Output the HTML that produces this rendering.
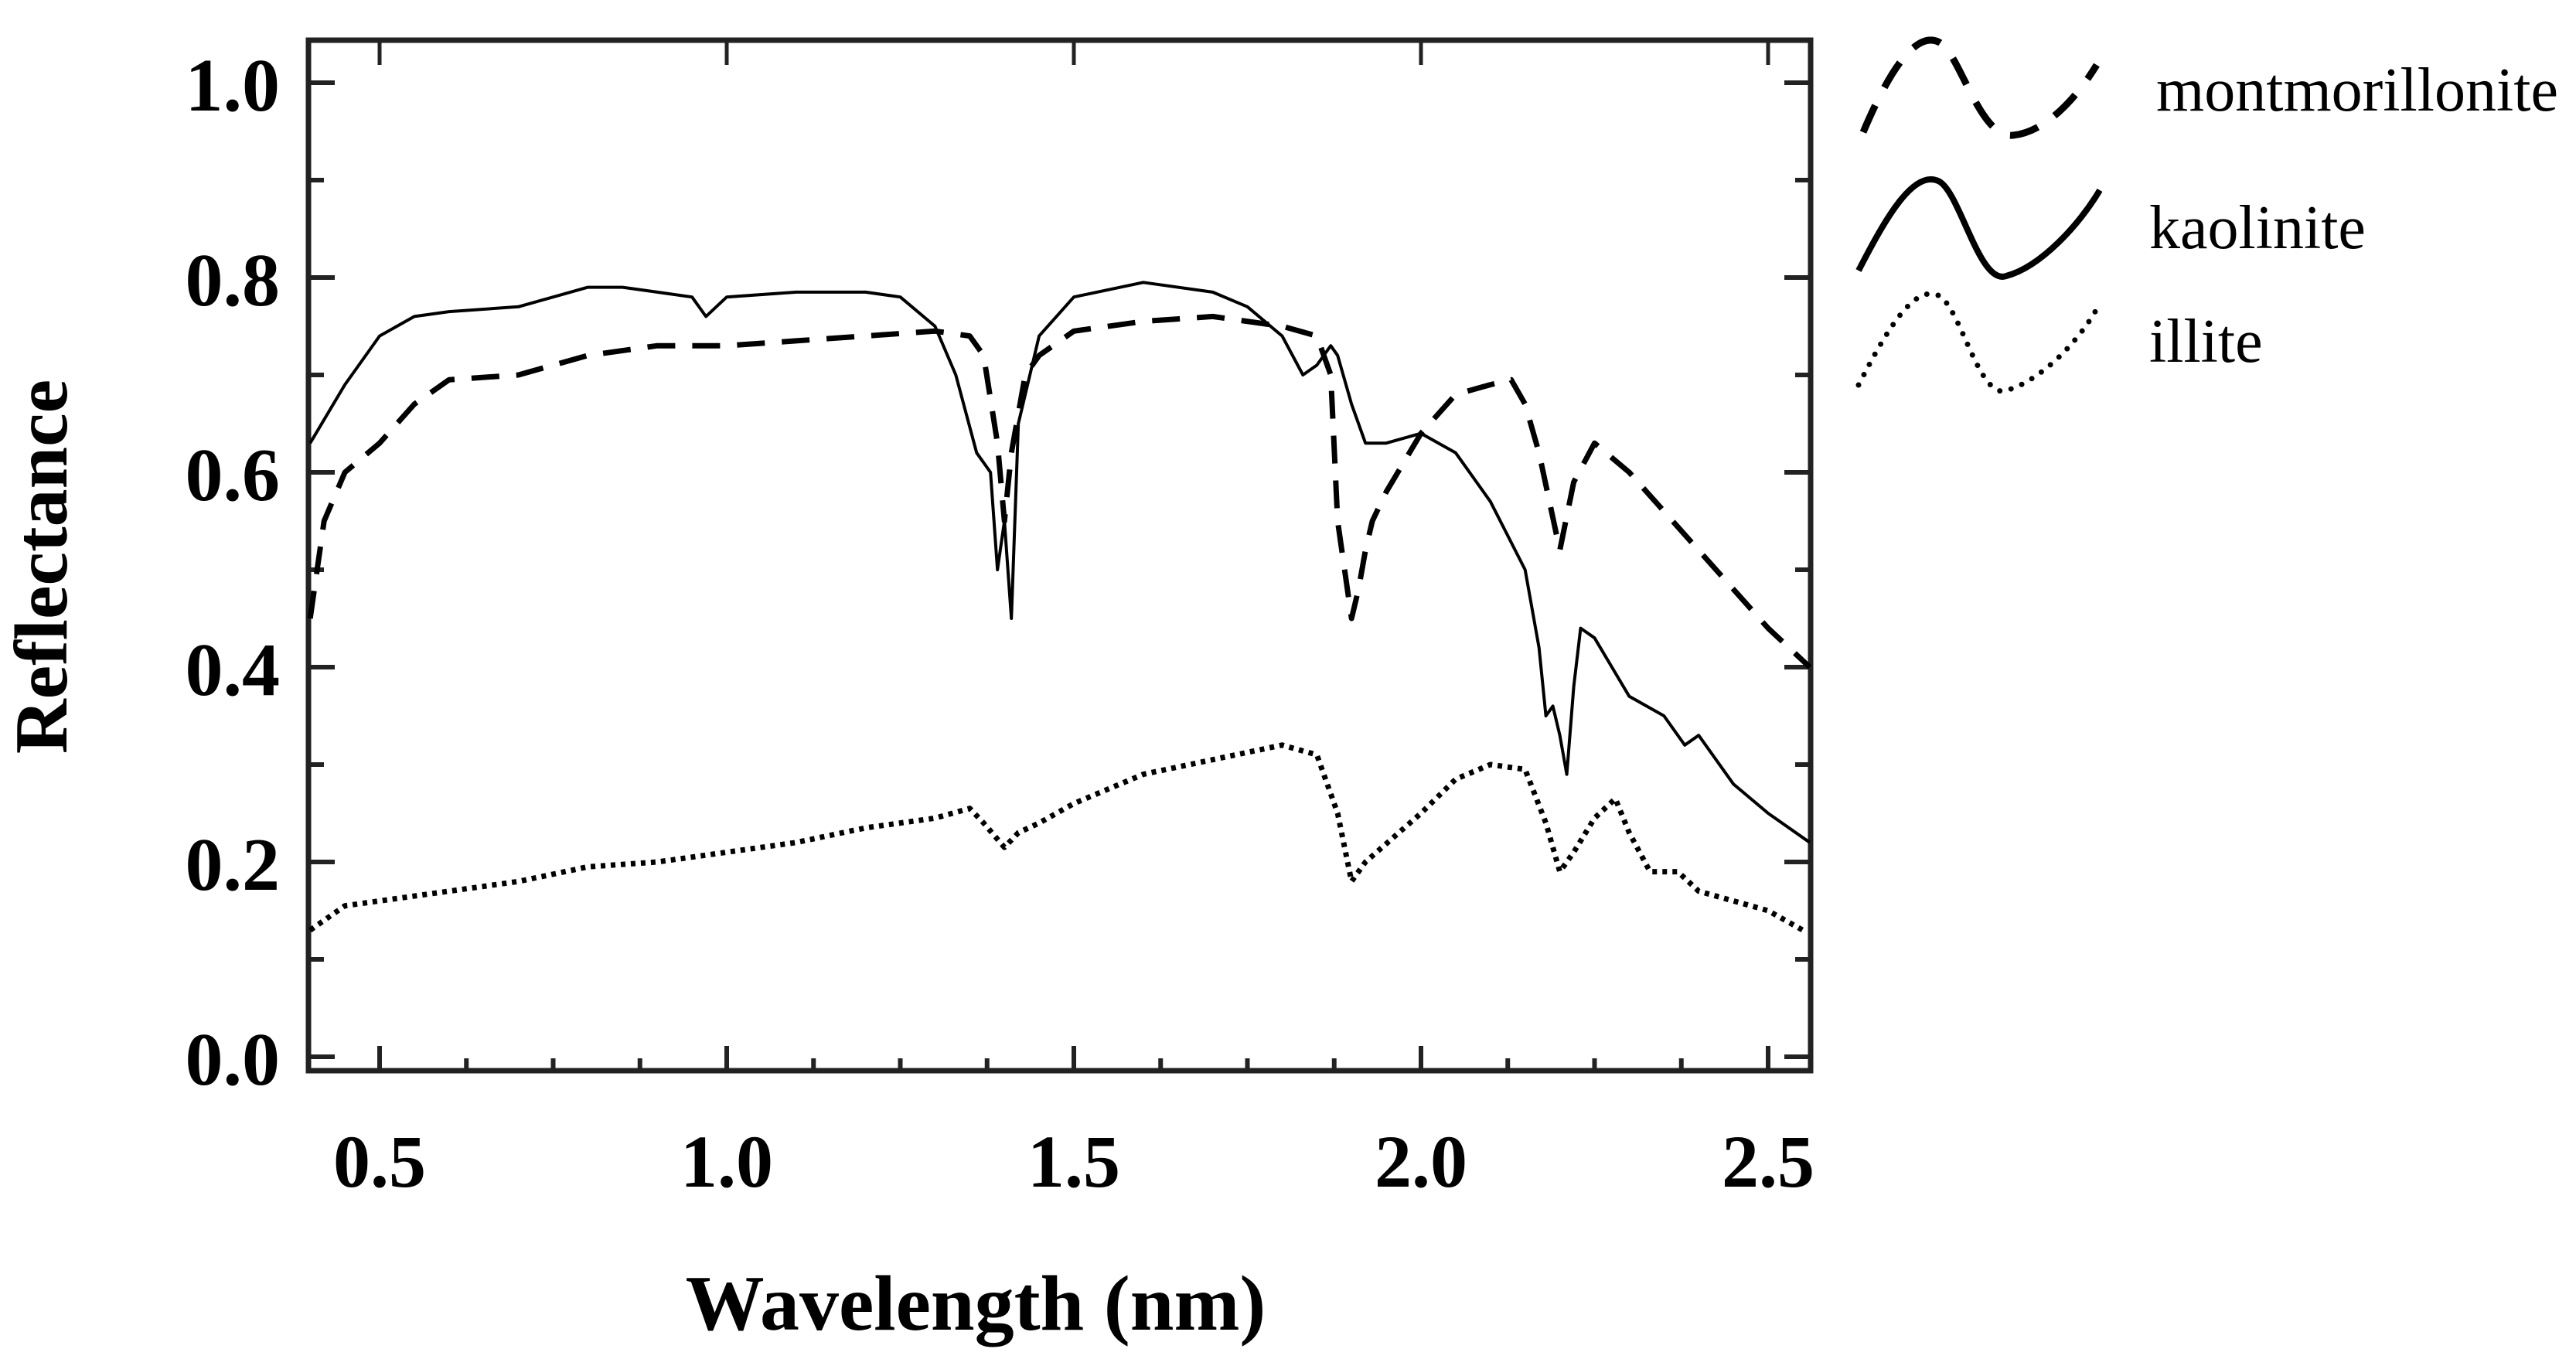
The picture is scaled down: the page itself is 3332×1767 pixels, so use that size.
<!DOCTYPE html>
<html><head><meta charset="utf-8"><style>
html,body{margin:0;padding:0;background:#fff;}
svg{display:block;}
</style></head><body>
<svg id="chart" width="3332" height="1767" viewBox="0 0 3332 1767" xmlns="http://www.w3.org/2000/svg">
<g id="axes"></g>
<g id="series"></g>
<text x="1262" y="1720" text-anchor="middle" font-family="Liberation Serif, serif" font-weight="bold" font-size="102">Wavelength (nm)</text>
<text transform="translate(86,733) rotate(-90)" text-anchor="middle" font-family="Liberation Serif, serif" font-weight="bold" font-size="98">Reflectance</text>
<g font-family="Liberation Serif, serif" font-size="80" fill="#000">
  <g>
    <path d="M2410,171 C2440,100 2475,40 2507,54 C2535,66 2560,180 2604,175 C2650,170 2690,120 2712,84" fill="none" stroke="#000" stroke-width="9" stroke-dasharray="38,26"/>
    <text x="2789" y="143">montmorillonite</text>
  </g>
  <g>
    <path d="M2404,350 C2440,280 2475,220 2507,234 C2535,246 2560,370 2595,357 C2640,345 2690,290 2716,246" fill="none" stroke="#000" stroke-width="8"/>
    <text x="2780" y="321">kaolinite</text>
  </g>
  <g>
    <path d="M2404,498 C2440,428 2475,368 2507,382 C2535,394 2560,518 2595,505 C2640,493 2690,440 2713,398" fill="none" stroke="#000" stroke-width="7" stroke-dasharray="0,15" stroke-linecap="round"/>
    <text x="2780" y="468">illite</text>
  </g>
</g>
</svg>
<script>
const kaoX = [0.40,0.45,0.50,0.55,0.60,0.70,0.80,0.85,0.90,0.95,0.97,1.00,1.10,1.20,1.25,1.30,1.33,1.36,1.38,1.39,1.40,1.41,1.42,1.45,1.50,1.60,1.70,1.75,1.80,1.83,1.85,1.87,1.88,1.90,1.92,1.95,2.00,2.05,2.10,2.15,2.17,2.18,2.19,2.20,2.21,2.22,2.23,2.25,2.30,2.35,2.38,2.40,2.42,2.45,2.50,2.56];
const kaoY = [0.63,0.69,0.74,0.76,0.765,0.77,0.79,0.79,0.785,0.78,0.76,0.78,0.785,0.785,0.78,0.75,0.70,0.62,0.60,0.50,0.55,0.45,0.65,0.74,0.78,0.795,0.785,0.77,0.74,0.70,0.71,0.73,0.72,0.67,0.63,0.63,0.64,0.62,0.57,0.50,0.42,0.35,0.36,0.33,0.29,0.38,0.44,0.43,0.37,0.35,0.32,0.33,0.31,0.28,0.25,0.22];
const monX = [0.40,0.42,0.45,0.50,0.55,0.60,0.70,0.80,0.90,1.00,1.10,1.20,1.30,1.35,1.37,1.39,1.40,1.41,1.43,1.45,1.50,1.60,1.70,1.80,1.85,1.87,1.88,1.90,1.91,1.92,1.93,1.95,2.00,2.05,2.10,2.13,2.15,2.17,2.20,2.22,2.25,2.30,2.35,2.40,2.45,2.50,2.56];
const monY = [0.45,0.55,0.60,0.63,0.67,0.695,0.70,0.72,0.73,0.73,0.735,0.74,0.745,0.74,0.72,0.63,0.55,0.62,0.70,0.72,0.745,0.755,0.76,0.75,0.74,0.70,0.55,0.45,0.48,0.52,0.55,0.58,0.64,0.68,0.69,0.695,0.67,0.62,0.52,0.59,0.63,0.60,0.56,0.52,0.48,0.44,0.40];
const illX = [0.40,0.45,0.50,0.60,0.70,0.80,0.90,1.00,1.10,1.20,1.30,1.35,1.37,1.40,1.42,1.45,1.50,1.60,1.70,1.80,1.85,1.88,1.90,1.92,2.00,2.05,2.10,2.15,2.18,2.20,2.22,2.25,2.28,2.30,2.33,2.37,2.40,2.45,2.50,2.55];
const illY = [0.13,0.155,0.16,0.17,0.18,0.195,0.20,0.21,0.22,0.235,0.245,0.255,0.24,0.215,0.23,0.24,0.26,0.29,0.305,0.32,0.31,0.25,0.18,0.20,0.25,0.285,0.30,0.295,0.24,0.19,0.21,0.245,0.265,0.23,0.19,0.19,0.17,0.16,0.15,0.13];
const xTicks = [0.5,1.0,1.5,2.0,2.5];
const xTickLabels = ["0.5","1.0","1.5","2.0","2.5"];
const yTicks = [0.0,0.2,0.4,0.6,0.8,1.0];
const yTickLabels = ["0.0","0.2","0.4","0.6","0.8","1.0"];

const L=399,R=2342,T=52,B=1385;
const xs = v => 491 + (v-0.5)*898;
const ys = v => 1367 - v*1260;
const NS="http://www.w3.org/2000/svg";
const axes=document.getElementById('axes');
function mk(tag,attrs,parent){const e=document.createElementNS(NS,tag);for(const k in attrs)e.setAttribute(k,attrs[k]);parent.appendChild(e);return e;}

const frame=mk('rect',{x:L,y:T,width:R-L,height:B-T,fill:'none',stroke:'#222','stroke-width':7},axes);



for(let v=0.375; v<=2.56; v+=0.125){
  if(v<0.399) continue;
  const major=Math.abs(v*2-Math.round(v*2))<1e-6;
  const len=major?32:16;
  const t=mk('line',{x1:xs(v),x2:xs(v),y1:B,y2:B-len,stroke:'#222','stroke-width':6},axes);
  
  
  if(major){
    const t2=mk('line',{x1:xs(v),x2:xs(v),y1:T,y2:T+32,stroke:'#222','stroke-width':5},axes);
    
    
  }
}
xTicks.forEach((v,i)=>{
  const t=mk('text',{x:xs(v),y:1535,'text-anchor':'middle','font-family':'Liberation Serif, serif','font-weight':'bold','font-size':96},axes);
  t.textContent=xTickLabels[i];
  
  
});
for(let k=0;k<=10;k++){
  const v=k/10, major=k%2===0, len=major?34:20;
  const a=mk('line',{x1:L,x2:L+len,y1:ys(v),y2:ys(v),stroke:'#222','stroke-width':6},axes);
  
  
  const b=mk('line',{x1:R,x2:R-len,y1:ys(v),y2:ys(v),stroke:'#222','stroke-width':6},axes);
  
  
}
yTicks.forEach((v,i)=>{
  const t=mk('text',{x:362,y:ys(v)+36,'text-anchor':'end','font-family':'Liberation Serif, serif','font-weight':'bold','font-size':98},axes);
  t.textContent=yTickLabels[i];
  
  
});

const series=document.getElementById('series');
function line(X,Y,name,style){
  const d=X.map((x,i)=>(i?'L':'M')+xs(x).toFixed(1)+','+ys(Y[i]).toFixed(1)).join(' ');
  const p=mk('path',Object.assign({d:d,fill:'none',stroke:'#000','stroke-linejoin':'round'},style),series);
  
  
}
line(monX,monY,'montmorillonite-line',{'stroke-width':7,'stroke-dasharray':'36,22'});
line(kaoX,kaoY,'kaolinite-line',{'stroke-width':4});
line(illX,illY,'illite-line',{'stroke-width':7,'stroke-dasharray':'6,7'});
</script>
</body></html>
